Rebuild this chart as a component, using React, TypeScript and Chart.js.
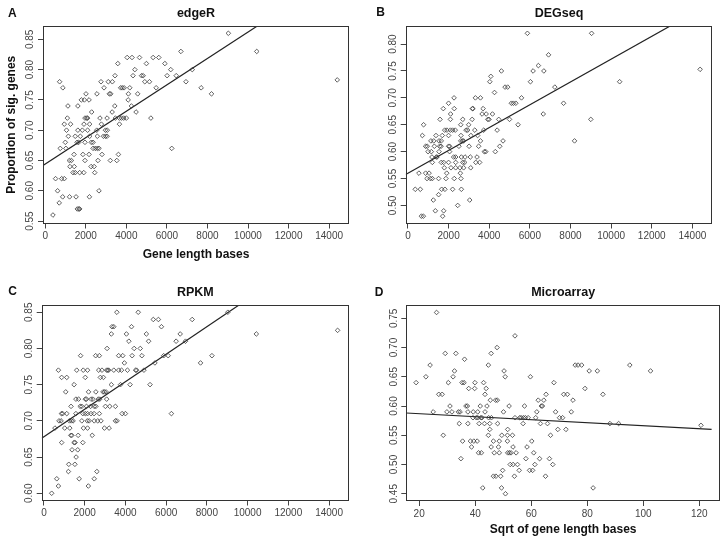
import React, { useEffect, useRef } from "react";
import { Chart, registerables } from "chart.js";

Chart.register(...registerables);

// ---------- DATA ----------
// rows: [proportion, gene lengths...]
const edgeRRows: [number, number[]][] = [
  [0.86, [9030]],
  [0.83, [6690, 10430]],
  [0.82, [4040, 4280, 4650, 5320, 5600]],
  [0.81, [3580, 4990, 5900]],
  [0.8, [4420, 6190, 7250]],
  [0.79, [3440, 4330, 4750, 4830, 6010, 6460]],
  [0.783, [14400]],
  [0.78, [710, 2750, 3110, 3310, 4910, 5140, 6940]],
  [0.77, [870, 2900, 3720, 3800, 3890, 4170, 5470, 7690]],
  [0.76, [2010, 2550, 3160, 3230, 4100, 4560, 8200]],
  [0.75, [1780, 1930, 2160, 4090]],
  [0.74, [1120, 1610, 3430, 4250]],
  [0.73, [2290, 3300, 4480]],
  [0.72, [1090, 1960, 2040, 2090, 2700, 3050, 3460, 3660, 3760, 3870, 4000, 5210]],
  [0.71, [940, 1250, 1910, 2190, 2770, 3660]],
  [0.7, [1050, 1610, 1830, 2090, 2540, 2970, 3060]],
  [0.69, [1140, 1480, 1730, 2190, 2570, 2870, 2970, 3050]],
  [0.68, [990, 1570, 1650, 1960, 2270, 2360]],
  [0.67, [740, 1020, 2360, 2470, 2570, 2650, 6240]],
  [0.66, [1420, 1860, 2160, 2800, 3610]],
  [0.65, [1190, 1290, 1960, 2600, 3210, 3530]],
  [0.64, [1220, 1430, 2260, 2410]],
  [0.63, [1370, 1480, 1700, 1900, 2440]],
  [0.62, [510, 810, 940]],
  [0.6, [610, 2650]],
  [0.59, [860, 1200, 1520, 2180]],
  [0.58, [690]],
  [0.57, [1580, 1660, 1700]],
  [0.56, [380]],
];

const degseqRows: [number, number[]][] = [
  [0.82, [5880, 9040]],
  [0.78, [6920]],
  [0.76, [6420]],
  [0.753, [14380]],
  [0.75, [4600, 6160, 6690]],
  [0.74, [4080]],
  [0.73, [4030, 6030, 10420]],
  [0.72, [4780, 4910, 7230]],
  [0.71, [4260]],
  [0.7, [2270, 3320, 3570, 5590]],
  [0.69, [2000, 5090, 5190, 5310, 7660]],
  [0.68, [1740, 2280, 3170, 3200, 3700]],
  [0.67, [2100, 3650, 3850, 4160, 6660]],
  [0.66, [1580, 2090, 2700, 3160, 3930, 3990, 4470, 5000, 9000]],
  [0.65, [770, 2600, 2990, 5420]],
  [0.64, [1810, 1920, 2090, 2200, 2330, 2860, 2940, 3290, 3730, 4390]],
  [0.63, [710, 1380, 1690, 2000, 2610, 3100, 3430]],
  [0.62, [1130, 1270, 1530, 1640, 2600, 2680, 2740, 3570, 4680, 8200]],
  [0.61, [870, 950, 1300, 1560, 1630, 2000, 2050, 2510, 3010, 3480, 4520]],
  [0.6, [990, 1150, 1530, 2050, 3760, 3830, 4300]],
  [0.59, [1180, 1400, 1430, 2250, 2350, 2630, 2810, 3070, 3400]],
  [0.58, [1200, 1640, 1760, 2000, 2350, 2700, 2790, 3340, 3530]],
  [0.57, [1790, 2120, 2350, 2560, 2740, 3090]],
  [0.56, [540, 870, 1040, 1910, 2580]],
  [0.55, [940, 1100, 1200, 1510, 1870, 2280, 2610]],
  [0.53, [360, 610, 1660, 1820, 2200, 2630]],
  [0.52, [1510]],
  [0.51, [1250, 3040]],
  [0.5, [2450]],
  [0.49, [1350, 1760]],
  [0.48, [660, 760, 1710]],
];

const rpkmRows: [number, number[]][] = [
  [0.85, [3580, 4630, 9030]],
  [0.84, [5370, 5620, 7280]],
  [0.83, [3340, 3430, 4300, 5770]],
  [0.825, [14420]],
  [0.82, [3310, 4050, 5030, 6690, 10430]],
  [0.81, [4170, 5140, 6490, 6950]],
  [0.8, [3100, 4430, 4730]],
  [0.79, [1800, 2540, 2720, 3670, 3870, 4330, 4810, 5880, 6100, 8250]],
  [0.78, [3950, 5450, 7690]],
  [0.77, [710, 1610, 1930, 2140, 2690, 2850, 3080, 3130, 3180, 3430, 3670, 3810, 4100, 4500, 4550, 4910]],
  [0.76, [870, 1120, 2030, 2770, 2920]],
  [0.75, [1480, 3310, 3760, 4230, 5210]],
  [0.74, [1070, 2190, 2550, 2900, 2970, 3050]],
  [0.73, [1570, 1700, 2030, 2090, 2310, 2410, 2670, 2740, 3080]],
  [0.72, [1330, 1780, 1860, 2090, 2290, 2470, 2550, 3020, 3230, 3510]],
  [0.71, [860, 920, 1120, 1570, 1910, 2030, 2140, 2310, 2460, 2720, 3840, 4000, 6260]],
  [0.7, [740, 840, 1250, 1350, 1430, 1860, 2130, 2220, 2470, 2640, 2800, 3510, 3590]],
  [0.69, [540, 1020, 1270, 1940, 2140, 2970, 3200]],
  [0.68, [1320, 1370, 1680, 2370]],
  [0.67, [870, 1480, 1530, 1910]],
  [0.66, [1380, 1660]],
  [0.65, [1580]],
  [0.64, [1220, 1520]],
  [0.63, [1200, 2600]],
  [0.62, [630, 1730, 2470]],
  [0.61, [710, 2180]],
  [0.6, [380]],
];

// rows: [proportion, sqrt gene lengths...]
const microarrayRows: [number, number[]][] = [
  [0.76, [26.2]],
  [0.72, [54.2]],
  [0.7, [47.8]],
  [0.69, [29.3, 33.1, 45.7]],
  [0.68, [36.2]],
  [0.67, [23.9, 44.7, 75.7, 76.7, 78.0, 95.2]],
  [0.66, [32.6, 50.3, 80.7, 83.6, 102.6]],
  [0.65, [22.4, 32.1, 50.7, 59.7]],
  [0.64, [18.9, 30.4, 35.3, 36.0, 39.9, 43.0, 68.1]],
  [0.63, [37.7, 39.8, 43.9, 79.2]],
  [0.62, [27.0, 28.2, 43.5, 65.3, 71.6, 72.9, 85.6]],
  [0.61, [45.4, 47.3, 47.9, 62.5, 64.5, 74.9]],
  [0.6, [31.0, 36.7, 37.2, 41.8, 44.2, 52.1, 57.6, 63.6, 64.0]],
  [0.59, [25.0, 29.9, 31.7, 34.0, 34.6, 37.4, 39.3, 40.9, 43.5, 50.1, 62.0, 68.7, 74.3]],
  [0.58, [39.2, 40.4, 40.9, 42.0, 42.4, 44.8, 45.8, 54.2, 55.9, 56.4, 57.2, 57.9, 58.9, 61.6, 70.1, 71.2]],
  [0.57, [34.3, 37.4, 41.4, 43.3, 45.2, 48.0, 57.1, 63.3, 65.8, 88.1, 91.2]],
  [0.567, [120.6]],
  [0.56, [45.2, 51.6, 69.5, 72.4]],
  [0.55, [28.6, 44.7, 49.5, 51.5, 53.3, 66.9]],
  [0.54, [35.5, 38.3, 39.5, 40.7, 46.5, 48.6, 51.5, 60.2]],
  [0.53, [38.7, 45.7, 48.3, 53.5, 58.5]],
  [0.52, [41.2, 42.2, 46.8, 48.6, 51.6, 52.2, 52.8, 54.6, 60.9]],
  [0.51, [34.9, 58.1, 63.0, 66.5]],
  [0.5, [52.5, 53.5, 55.1, 61.3, 67.7]],
  [0.49, [49.8, 55.7, 59.4, 60.5]],
  [0.48, [46.5, 47.4, 49.1, 54.0, 65.1]],
  [0.46, [42.7, 49.4, 82.1]],
  [0.45, [50.8]],
];

const panelRows = [edgeRRows, degseqRows, rpkmRows, microarrayRows];
const panelTitles = ["edgeR", "DEGseq", "RPKM", "Microarray"];
const panelLetters = ["A", "B", "C", "D"];
const xAxisTitles = ["Gene length bases", "", "", "Sqrt of gene length bases"];
const yAxisTitles = ["Proportion of sig. genes", "", "", ""];

// regression fits
const fitIntercepts = [0.644, 0.56, 0.678, 0.592];
const fitSlopes = [2.18e-5, 2.12e-5, 1.9e-5, -2.57e-4];
const fitXStart = [-110, -110, -110, 15.4];
const fitXEnd = [14980, 14980, 14980, 124.4];

// axis ranges and tick labels
const xMins = [-110, -110, -110, 15.4];
const xMaxs = [14980, 14980, 14980, 127.4];
const lengthTicks = [0, 2000, 4000, 6000, 8000, 10000, 12000, 14000];
const sqrtTicks = [20, 40, 60, 80, 100, 120];
const xTickSets = [lengthTicks, lengthTicks, lengthTicks, sqrtTicks];
const yMins = [0.546, 0.4664, 0.59, 0.4376];
const yMaxs = [0.872, 0.8336, 0.86, 0.7724];
const yTickSets = [
  [0.55, 0.6, 0.65, 0.7, 0.75, 0.8, 0.85],
  [0.5, 0.55, 0.6, 0.65, 0.7, 0.75, 0.8],
  [0.6, 0.65, 0.7, 0.75, 0.8, 0.85],
  [0.45, 0.5, 0.55, 0.6, 0.65, 0.7, 0.75],
];

// ---------- LAYOUT ----------
const FONT = '"Liberation Sans", Arial, Helvetica, sans-serif';
const panelBoxes = [
  { left: 0, top: 0, w: 364, h: 270, padTop: 26, padRight: 15, yW: 43, xH: 46.5, titleY: 17, letterX: 8, letterY: 16.5, xTitlePad: 7.8 },
  { left: 364, top: 0, w: 364, h: 270, padTop: 26, padRight: 15.7, yW: 41.7, xH: 46.5, titleY: 17, letterX: 12.3, letterY: 16, xTitlePad: 7.8 },
  { left: 0, top: 270, w: 364, h: 273, padTop: 35, padRight: 15, yW: 41.7, xH: 42.5, titleY: 25.5, letterX: 8.3, letterY: 24.5, xTitlePad: 5.8 },
  { left: 364, top: 270, w: 364, h: 273, padTop: 35.2, padRight: 8, yW: 42.3, xH: 42, titleY: 25.5, letterX: 10.7, letterY: 26, xTitlePad: 5.8 },
];

const decorPlugin = {
  id: "panelDecor",
  afterDraw(chart: any, _args: any, opts: any) {
    const { ctx, chartArea: a } = chart;
    ctx.save();
    ctx.strokeStyle = "#333";
    ctx.lineWidth = 1;
    const l = Math.round(a.left) + 0.5;
    const t = Math.round(a.top) + 0.5;
    const r = Math.round(a.right) - 0.5;
    const b = Math.round(a.bottom) - 0.5;
    ctx.strokeRect(l, t, r - l, b - t);
    ctx.fillStyle = "#111";
    ctx.font = `bold 12.5px ${FONT}`;
    ctx.textBaseline = "alphabetic";
    ctx.textAlign = "center";
    ctx.fillText(opts.title, (a.left + a.right) / 2, opts.titleY);
    ctx.textAlign = "left";
    ctx.font = `bold 12px ${FONT}`;
    ctx.fillText(opts.letter, opts.letterX, opts.letterY);
    ctx.restore();
  },
};

function Panel({ i }: { i: number }) {
  const ref = useRef<HTMLCanvasElement>(null);
  const box = panelBoxes[i];
  useEffect(() => {
    const pts = panelRows[i].flatMap(([y, xs]) => xs.map((x) => ({ x, y })));
    const fit = [fitXStart[i], fitXEnd[i]].map((x) => ({ x, y: fitIntercepts[i] + fitSlopes[i] * x }));
    const chart = new Chart(ref.current as HTMLCanvasElement, {
      type: "scatter",
      data: {
        datasets: [
          {
            data: pts,
            pointStyle: "rectRot",
            pointRadius: 2.3,
            pointBorderWidth: 0.8,
            borderColor: "#3a3a3a",
            backgroundColor: "rgba(0,0,0,0)",
            showLine: false,
          } as any,
          {
            data: fit,
            showLine: true,
            borderColor: "#222",
            borderWidth: 1.2,
            pointRadius: 0,
            backgroundColor: "rgba(0,0,0,0)",
          } as any,
        ],
      },
      options: {
        animation: false,
        responsive: false,
        devicePixelRatio: 1,
        events: [],
        layout: { autoPadding: false, padding: { top: box.padTop, right: box.padRight, left: 0, bottom: 0 } },
        plugins: {
          legend: { display: false },
          tooltip: { enabled: false },
          title: { display: false },
          panelDecor: { title: panelTitles[i], letter: panelLetters[i], titleY: box.titleY, letterX: box.letterX, letterY: box.letterY },
        } as any,
        scales: {
          x: {
            type: "linear",
            position: "bottom",
            min: xMins[i],
            max: xMaxs[i],
            afterFit: (s: any) => { s.height = box.xH; },
            afterBuildTicks: (s: any) => { s.ticks = xTickSets[i].map((v) => ({ value: v })); },
            border: { display: false },
            grid: { drawOnChartArea: false, drawTicks: true, tickLength: 5, color: "#444", tickWidth: 1 },
            ticks: {
              autoSkip: false,
              maxRotation: 0,
              minRotation: 0,
              padding: 2,
              color: "#444",
              font: { family: FONT, size: 10 },
              callback: (v: any) => String(Math.round(Number(v))),
            },
            title: {
              display: xAxisTitles[i] !== "",
              text: xAxisTitles[i],
              color: "#111",
              font: { family: FONT, size: 12, weight: "bold" },
              padding: { top: 0, bottom: box.xTitlePad },
            },
          },
          y: {
            type: "linear",
            position: "left",
            min: yMins[i],
            max: yMaxs[i],
            afterFit: (s: any) => { s.width = box.yW; },
            afterBuildTicks: (s: any) => { s.ticks = yTickSets[i].map((v) => ({ value: v })); },
            border: { display: false },
            grid: { drawOnChartArea: false, drawTicks: true, tickLength: 5, color: "#444", tickWidth: 1 },
            ticks: {
              autoSkip: false,
              minRotation: 90,
              maxRotation: 90,
              crossAlign: "center",
              padding: -2.4,
              color: "#444",
              font: { family: FONT, size: 10 },
              callback: (v: any) => Number(v).toFixed(2),
            },
            title: {
              display: yAxisTitles[i] !== "",
              text: yAxisTitles[i],
              color: "#111",
              font: { family: FONT, size: 12, weight: "bold" },
              padding: { top: 4.3, bottom: 0 },
            },
          },
        },
      } as any,
      plugins: [decorPlugin],
    });
    return () => chart.destroy();
  }, [i]);
  return (
    <div style={{ position: "absolute", left: box.left, top: box.top, width: box.w, height: box.h }}>
      <canvas ref={ref} width={box.w} height={box.h} style={{ width: box.w, height: box.h, display: "block" }} />
    </div>
  );
}

export default function App() {
  return (
    <div style={{ position: "absolute", left: 0, top: 0, width: 728, height: 543, background: "#fff" }}>
      {[0, 1, 2, 3].map((i) => (
        <Panel key={i} i={i} />
      ))}
    </div>
  );
}
